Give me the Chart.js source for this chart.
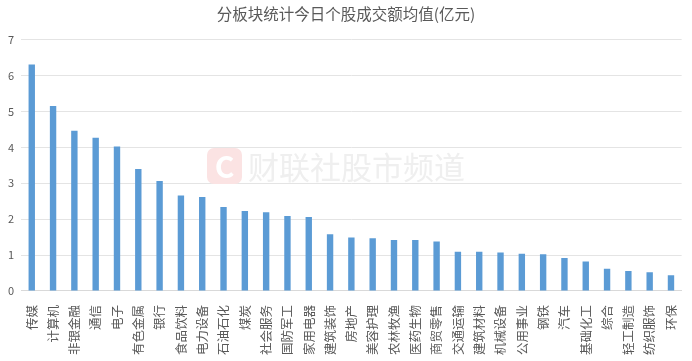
<!DOCTYPE html>
<html>
<head>
<meta charset="utf-8">
<script src="https://cdn.jsdelivr.net/npm/chart.js@4/dist/chart.umd.min.js"></script>
<style>
  html, body { margin: 0; padding: 0; background: #fff; }
</style>
</head>
<body>
<canvas id="chart" width="692" height="361"></canvas>
<script>
const titleText = "分板块统计今日个股成交额均值(亿元)";

const sectors = [
  "传媒", "计算机", "非银金融", "通信", "电子", "有色金属", "银行", "食品饮料",
  "电力设备", "石油石化", "煤炭", "社会服务", "国防军工", "家用电器", "建筑装饰",
  "房地产", "美容护理", "农林牧渔", "医药生物", "商贸零售", "交通运输", "建筑材料",
  "机械设备", "公用事业", "钢铁", "汽车", "基础化工", "综合", "轻工制造", "纺织服饰", "环保"
];

const avgTurnover = [
  6.31, 5.15, 4.46, 4.27, 4.02, 3.40, 3.06, 2.66,
  2.62, 2.34, 2.23, 2.19, 2.09, 2.06, 1.58,
  1.49, 1.47, 1.42, 1.42, 1.38, 1.09, 1.09,
  1.07, 1.04, 1.02, 0.92, 0.82, 0.62, 0.56, 0.52, 0.44
];

const yTicks = [0, 1, 2, 3, 4, 5, 6, 7];

const fontFamily = '"Noto Sans CJK SC", "Noto Sans", sans-serif';

// faint source watermark behind the bars
const watermark = {
  id: "watermark",
  beforeDatasetsDraw(chart) {
    const ctx = chart.ctx;
    ctx.save();
    ctx.fillStyle = "#fbe3e3";
    ctx.beginPath();
    ctx.roundRect(207, 148, 35, 36, 7);
    ctx.fill();
    ctx.fillStyle = "#ffffff";
    ctx.font = "bold 30px " + fontFamily;
    ctx.textAlign = "center";
    ctx.textBaseline = "middle";
    ctx.fillText("C", 224.5, 167);
    ctx.fillStyle = "#efefef";
    ctx.font = "31px " + fontFamily;
    ctx.textAlign = "left";
    ctx.fillText("财联社股市频道", 248, 167);
    ctx.restore();
  }
};

new Chart(document.getElementById("chart").getContext("2d"), {
  type: "bar",
  data: {
    labels: sectors,
    datasets: [{
      data: avgTurnover,
      backgroundColor: "#5b9bd5",
      borderWidth: 0,
      barPercentage: 0.6,
      categoryPercentage: 0.5
    }]
  },
  options: {
    responsive: false,
    animation: false,
    layout: { padding: { left: 1, right: 1, top: 0, bottom: 0 } },
    plugins: {
      legend: { display: false },
      tooltip: { enabled: false },
      title: {
        display: true,
        text: titleText,
        color: "#595959",
        font: { family: fontFamily, size: 15.5, weight: "normal" },
        padding: { top: 5, bottom: 16 }
      }
    },
    scales: {
      x: {
        grid: { display: false },
        border: { color: "#d9d9d9" },
        ticks: {
          autoSkip: false,
          maxRotation: 90,
          minRotation: 90,
          color: "#595959",
          padding: 6,
          font: { family: fontFamily, size: 12.5 }
        }
      },
      y: {
        min: 0,
        max: 7,
        afterBuildTicks(axis) {
          axis.ticks = yTicks.map(v => ({ value: v }));
        },
        grid: { color: "#e4e4e4", drawTicks: false },
        border: { display: false },
        ticks: {
          color: "#595959",
          padding: 7,
          font: { family: fontFamily, size: 11 }
        }
      }
    }
  },
  plugins: [watermark]
});
</script>
</body>
</html>
